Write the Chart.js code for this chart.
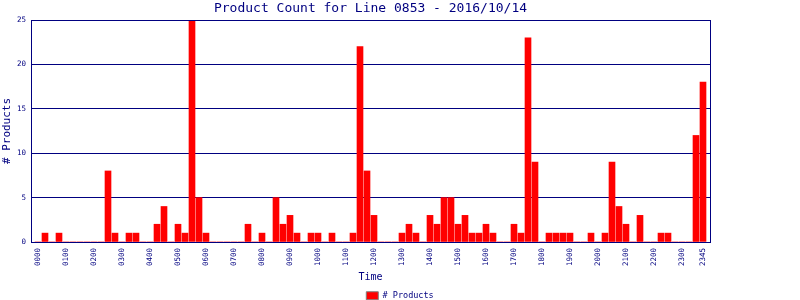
<!DOCTYPE html>
<html>
<head>
<meta charset="utf-8">
<script src="https://cdn.jsdelivr.net/npm/chart.js@4"></script>
<style>
  body { margin: 0; background: #fff; }
</style>
</head>
<body>
<canvas id="countChart" width="800" height="300"></canvas>
<script>
// 15 minute slots over the day
const times = [
    '0000','0015','0030','0045','0100','0115','0130','0145','0200','0215','0230','0245',
    '0300','0315','0330','0345','0400','0415','0430','0445','0500','0515','0530','0545',
    '0600','0615','0630','0645','0700','0715','0730','0745','0800','0815','0830','0845',
    '0900','0915','0930','0945','1000','1015','1030','1045','1100','1115','1130','1145',
    '1200','1215','1230','1245','1300','1315','1330','1345','1400','1415','1430','1445',
    '1500','1515','1530','1545','1600','1615','1630','1645','1700','1715','1730','1745',
    '1800','1815','1830','1845','1900','1915','1930','1945','2000','2015','2030','2045',
    '2100','2115','2130','2145','2200','2215','2230','2245','2300','2315','2330','2345'
];
const productCounts = [
    0, 1, 0, 1, 0, 0, 0, 0, 0, 0, 8, 1,
    0, 1, 1, 0, 0, 2, 4, 0, 2, 1, 25, 5,
    1, 0, 0, 0, 0, 0, 2, 0, 1, 0, 5, 2,
    3, 1, 0, 1, 1, 0, 1, 0, 0, 1, 22, 8,
    3, 0, 0, 0, 1, 2, 1, 0, 3, 2, 5, 5,
    2, 3, 1, 1, 2, 1, 0, 0, 2, 1, 23, 9,
    0, 1, 1, 1, 1, 0, 0, 1, 0, 1, 9, 4,
    2, 0, 3, 0, 0, 1, 1, 0, 0, 0, 12, 18
];
// labelled slots: every hour plus the last one
const tickSlots = [0, 4, 8, 12, 16, 20, 24, 28, 32, 36, 40, 44, 48, 52, 56, 60, 64, 68, 72, 76, 80, 84, 88, 92, 95];
const yTicks = [0, 5, 10, 15, 20, 25];

const NAVY = '#000080';
const MONO = 'DejaVu Sans Mono';

const frameBox = {
    id: 'frameBox',
    afterDatasetsDraw(chart) {
        const a = chart.chartArea;
        const c = chart.ctx;
        c.save();
        c.strokeStyle = NAVY;
        c.lineWidth = 1;
        c.strokeRect(Math.round(a.left) + 0.5, Math.round(a.top) + 0.5,
            Math.round(a.right - a.left), Math.round(a.bottom - a.top));
        c.restore();
    }
};

const ctx = document.getElementById('countChart').getContext('2d');
new Chart(ctx, {
    type: 'bar',
    data: {
        datasets: [{
            label: '# Products',
            data: productCounts.map((v, i) => ({ x: i, y: v })),
            backgroundColor: '#ff0000',
            borderWidth: 0,
            barThickness: 6
        }]
    },
    options: {
        responsive: false,
        animation: false,
        layout: { padding: { left: 0, right: 0, top: 0, bottom: -10 } },
        plugins: {
            tooltip: { enabled: false },
            title: {
                display: true,
                fullSize: false,
                text: 'Product Count for Line 0853 - 2016/10/14',
                color: NAVY,
                font: { family: MONO, size: 13, weight: 'normal', lineHeight: 1 },
                padding: { top: 2, bottom: 5 }
            },
            legend: {
                position: 'bottom',
                labels: {
                    color: NAVY,
                    font: { family: MONO, size: 8.5 },
                    boxWidth: 12,
                    boxHeight: 8,
                    padding: 4,
                    generateLabels(chart) {
                        return chart.data.datasets.map((ds, i) => ({
                            text: ds.label,
                            fillStyle: ds.backgroundColor,
                            strokeStyle: '#808080',
                            lineWidth: 1,
                            fontColor: NAVY,
                            datasetIndex: i
                        }));
                    }
                }
            }
        },
        scales: {
            x: {
                type: 'linear',
                offset: false,
                min: -1,
                max: 96,
                afterFit(scale) { scale.height = 45.5; },
                afterBuildTicks(scale) {
                    scale.ticks = tickSlots.map(v => ({ value: v }));
                },
                ticks: {
                    autoSkip: false,
                    minRotation: 90,
                    maxRotation: 90,
                    padding: 6,
                    color: NAVY,
                    font: { family: MONO, size: 7.5 },
                    callback: (v) => times[v]
                },
                grid: { display: false, drawTicks: false },
                border: { color: NAVY, width: 1 },
                title: {
                    display: true,
                    text: 'Time',
                    color: NAVY,
                    font: { family: MONO, size: 10, lineHeight: 1 },
                    padding: { top: 0, bottom: 5 }
                }
            },
            y: {
                min: 0,
                max: 25,
                afterFit(scale) { scale.width = 31; },
                afterBuildTicks(scale) {
                    scale.ticks = yTicks.map(v => ({ value: v }));
                },
                ticks: {
                    padding: 5,
                    color: NAVY,
                    font: { family: MONO, size: 7.5 }
                },
                grid: { color: NAVY, lineWidth: 1, drawTicks: false },
                border: { color: NAVY, width: 1 },
                title: {
                    display: true,
                    text: '# Products',
                    color: NAVY,
                    font: { family: MONO, size: 11, lineHeight: 1 },
                    padding: { top: 2, bottom: 0 }
                }
            },
            // empty right margin, keeps the legend centred on the canvas
            yRight: {
                type: 'linear',
                position: 'right',
                afterFit(scale) { scale.width = 90; },
                ticks: { display: false },
                grid: { display: false, drawTicks: false },
                border: { display: false }
            }
        }
    },
    plugins: [frameBox]
});
</script>
</body>
</html>
